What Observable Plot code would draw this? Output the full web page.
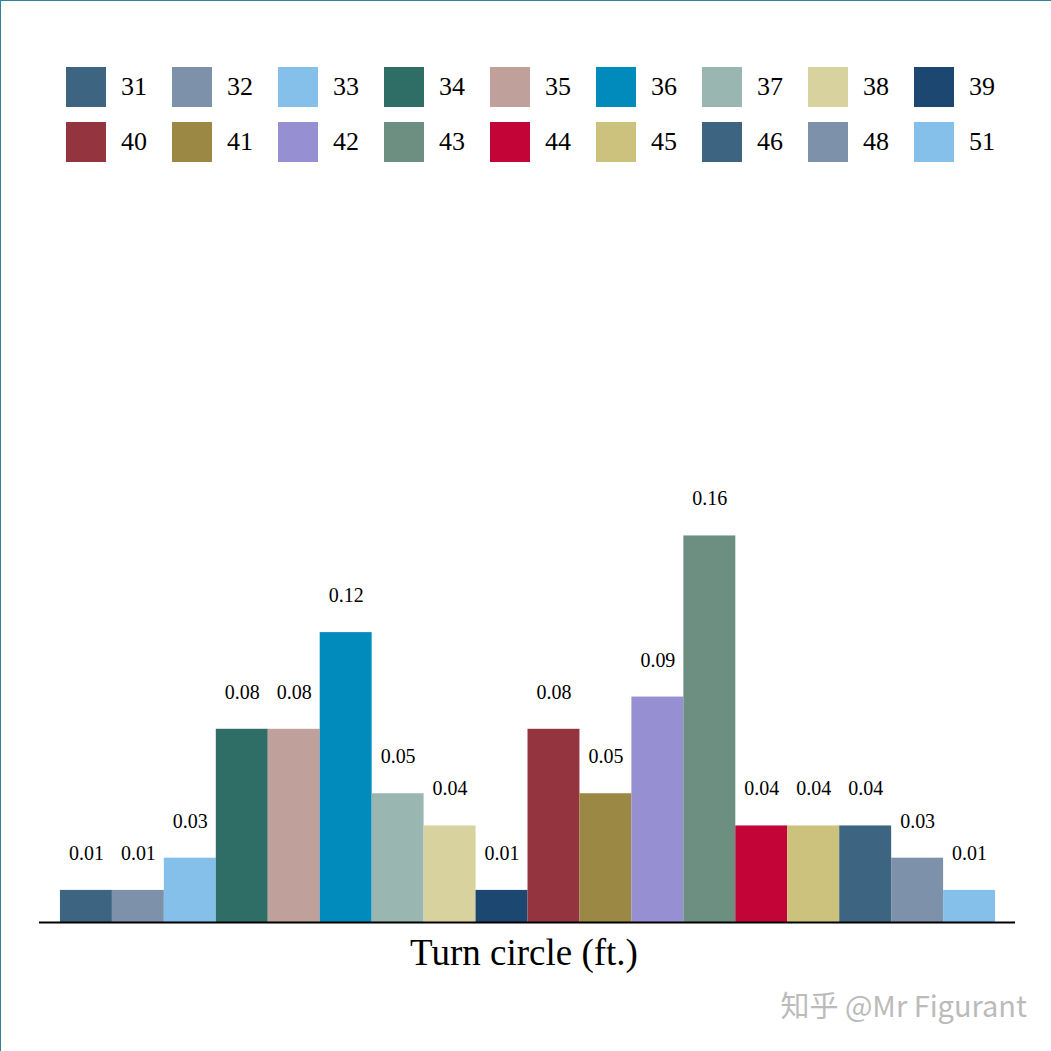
<!DOCTYPE html>
<html><head><meta charset="utf-8">
<script src="https://cdn.jsdelivr.net/npm/d3@7"></script>
<script src="https://cdn.jsdelivr.net/npm/@observablehq/plot@0.6"></script>
<style>
body{margin:0;background:#fff;}
#wrap{position:relative;width:1051px;height:1051px;overflow:hidden;font-family:"Liberation Serif","Times New Roman",serif;border-top:1px solid #2a8595;border-left:1px solid #2a8595;box-sizing:border-box;}
#chart{position:absolute;left:0;top:0;}
.lg{position:absolute;display:flex;align-items:center;font-size:26px;}
.sw{width:40px;height:40px;margin-right:15px;}
#xt{position:absolute;left:0;width:1046px;text-align:center;top:930px;font-size:37px;}
#wm{position:absolute;right:24px;top:982px;font-size:29px;color:#bbb;font-family:"Noto Sans CJK SC","Noto Sans",sans-serif;}
</style></head><body>
<div id="wrap"><div id="chart"></div><div id="xt">Turn circle (ft.)</div><div id="wm">知乎 @Mr Figurant</div></div>
<script>
const categories = ["31","32","33","34","35","36","37","38","39","40","41","42","43","44","45","46","48","51"];
const counts = [1,1,2,6,6,9,4,3,1,6,4,7,12,3,3,3,2,1];
const total = 74;
const colors = ["#3d6480","#7d92aa","#85c0ea","#2e6e66","#c0a09a","#008bbd","#99b7b0","#d8d29e","#1b4770","#93343e","#9c8845","#9690d2","#6c8f82","#c30436","#cdc27d","#3d6480","#7d92aa","#85c0ea"];
const data = categories.map((c,i)=>({c, v: counts[i]/total, col: colors[i]}));
const plot = Plot.plot({
  width:1051, height:1051,
  marginLeft:38, marginRight:36, marginTop:200, marginBottom:129,
  x:{type:"band", domain:categories, range:[54,1000], padding:0, axis:null},
  y:{domain:[0,0.3025], axis:null},
  style:{fontFamily:"Liberation Serif, Times New Roman, serif", background:"transparent"},
  marks:[
    Plot.barY(data,{x:"c", y:"v", fill:"col"}),
    Plot.text(data,{x:"c", y:"v", text:d=>d.v.toFixed(2), dy:-37, fontSize:20, fill:"#000"}),
    Plot.ruleY([0],{stroke:"#000", strokeWidth:2})
  ]
});
document.getElementById("chart").appendChild(plot);
const wrap = document.getElementById("wrap");
categories.forEach((c,i)=>{
  const d=document.createElement("div");
  d.className="lg";
  d.style.left=(65+106*(i%9))+"px";
  d.style.top=(i<9?66:121)+"px";
  d.innerHTML=`<div class="sw" style="background:${colors[i]}"></div><span>${c}</span>`;
  wrap.appendChild(d);
});
</script></body></html>
